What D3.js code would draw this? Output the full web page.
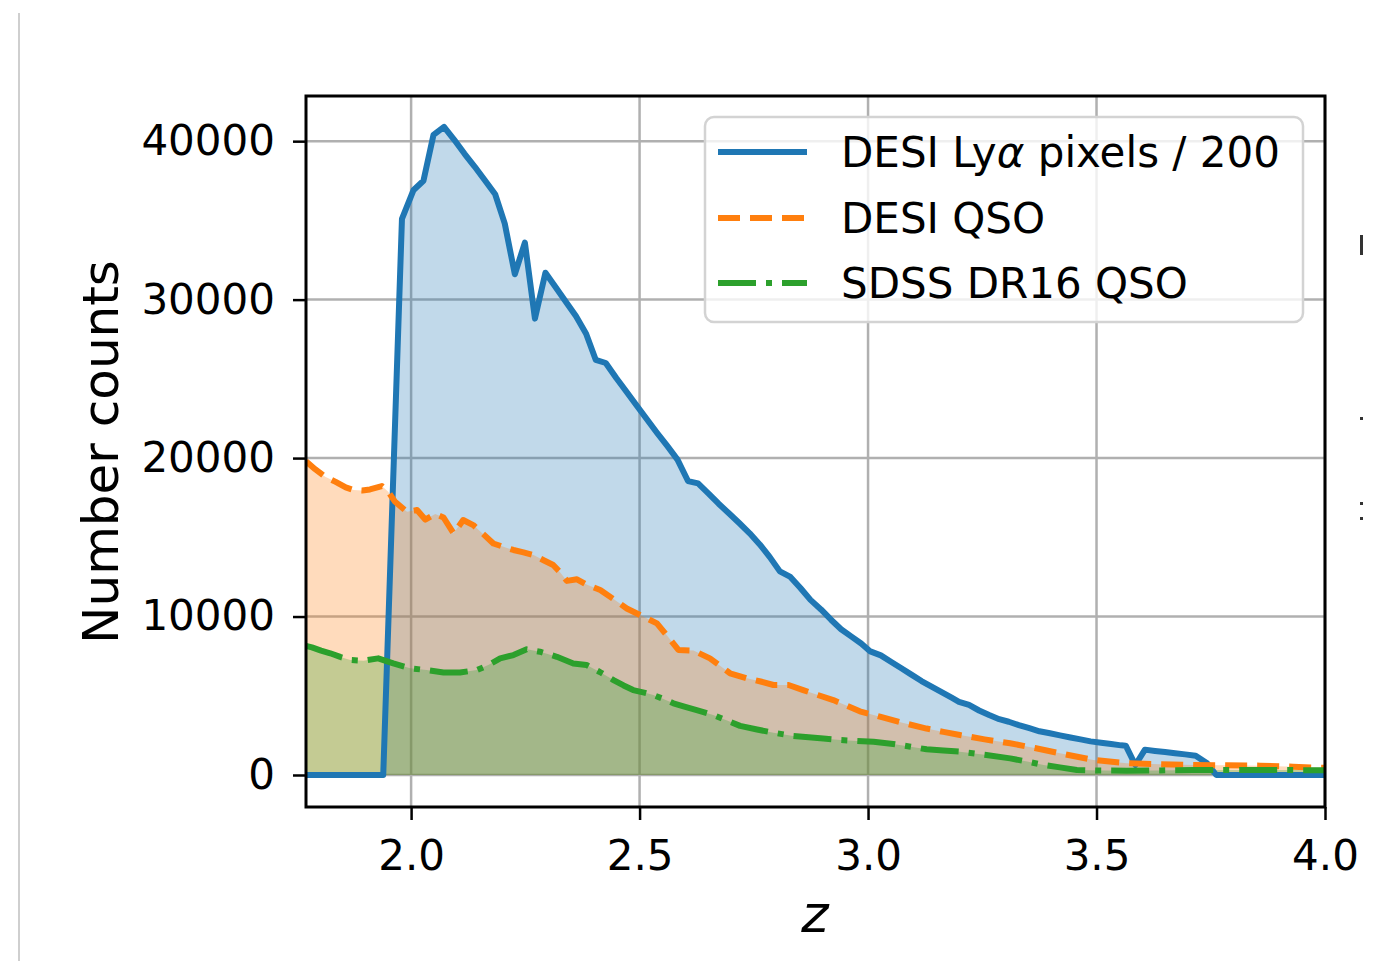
<!DOCTYPE html>
<html>
<head>
<meta charset="utf-8">
<script src="https://cdn.jsdelivr.net/npm/d3@7"></script>
<style>
  body { margin: 0; background: #fff; }
  svg { display: block; font-family: "DejaVu Sans", sans-serif; }
</style>
</head>
<body>
<svg id="chart" width="1380" height="961"></svg>
<script>
// DESI Lya pixels / 200
const lyaZ = [1.77,1.939,1.980,2.005,2.027,2.049,2.072,2.094,2.117,2.139,2.161,2.184,2.205,2.227,2.249,2.271,2.294,2.316,2.339,2.361,2.383,2.404,2.426,2.449,2.471,2.494,2.516,2.538,2.561,2.583,2.606,2.628,2.651,2.673,2.696,2.718,2.741,2.763,2.785,2.807,2.830,2.852,2.874,2.897,2.919,2.941,2.963,2.985,3.005,3.028,3.050,3.072,3.094,3.117,3.139,3.161,3.183,3.199,3.221,3.243,3.265,3.287,3.308,3.330,3.353,3.375,3.398,3.420,3.443,3.465,3.487,3.510,3.532,3.554,3.564,3.585,3.606,3.628,3.650,3.672,3.694,3.717,3.742,3.762,4.0];
const lyaN = [0,0,35100,36900,37500,40400,40900,40100,39200,38400,37550,36650,34800,31600,33600,28800,31700,30800,29850,28950,27850,26200,26000,25050,24200,23300,22450,21600,20750,19900,18550,18400,17760,17120,16500,15900,15250,14550,13750,12850,12500,11800,11050,10450,9800,9200,8750,8300,7800,7550,7150,6750,6350,5930,5580,5230,4880,4620,4420,4070,3780,3520,3360,3150,2950,2760,2630,2500,2370,2250,2120,2030,1950,1870,1850,630,1600,1520,1450,1370,1300,1220,740,0,0];

// DESI QSO
const qsoZ = [1.770,1.790,1.812,1.835,1.857,1.874,1.893,1.910,1.936,1.950,1.965,1.991,2.013,2.031,2.053,2.071,2.093,2.114,2.136,2.158,2.180,2.202,2.224,2.246,2.268,2.290,2.311,2.325,2.341,2.363,2.385,2.414,2.443,2.472,2.501,2.538,2.560,2.585,2.618,2.654,2.698,2.735,2.765,2.793,2.826,2.858,2.890,2.924,2.955,2.982,3.026,3.075,3.128,3.165,3.201,3.255,3.311,3.365,3.420,3.493,3.566,3.640,3.712,3.785,3.858,3.930,4.0];
const qsoN = [19800,19300,18820,18500,18150,17980,17950,18020,18230,17880,17240,16610,16720,16120,16470,16250,15250,16090,15770,15200,14610,14400,14200,14050,13880,13550,13250,12830,12250,12350,12000,11670,11100,10510,10100,9570,8800,7890,7850,7360,6420,6100,5900,5680,5680,5360,5050,4730,4350,4020,3680,3300,2930,2720,2520,2250,2000,1700,1370,950,740,680,630,610,590,520,450];

// SDSS DR16 QSO
const sdssZ = [1.770,1.783,1.803,1.823,1.845,1.867,1.896,1.928,1.961,1.998,2.034,2.071,2.107,2.144,2.170,2.195,2.224,2.253,2.282,2.319,2.355,2.384,2.413,2.443,2.465,2.486,2.510,2.530,2.552,2.574,2.600,2.625,2.661,2.690,2.720,2.757,2.793,2.836,2.870,2.902,2.939,2.975,3.012,3.055,3.090,3.128,3.165,3.201,3.259,3.311,3.348,3.384,3.420,3.457,3.510,3.566,3.640,3.712,3.785,3.858,3.930,4.0];
const sdssN = [8150,8050,7850,7680,7450,7260,7210,7360,7040,6730,6620,6470,6470,6620,6950,7360,7570,7930,7780,7460,7040,6940,6500,5990,5650,5360,5200,5050,4800,4520,4300,4100,3790,3450,3100,2870,2670,2460,2380,2300,2210,2150,2100,1960,1800,1620,1540,1470,1260,1050,850,630,480,320,280,270,290,320,320,320,310,300];

const xTicks = [2.0, 2.5, 3.0, 3.5, 4.0];
const yTicks = [0, 10000, 20000, 30000, 40000];
const labels = ["DESI Ly", "DESI QSO", "SDSS DR16 QSO"];

const svg = d3.select("#chart");
const plotL = 306, plotR = 1325, plotT = 96, plotB = 807;

const x = d3.scaleLinear().domain([1.77, 4.0]).range([plotL, plotR]);
const y = d3.scaleLinear().domain([-2020, 42850]).range([plotB, plotT]);

// frame of the neighbouring panel
svg.append("line").attr("x1", 19).attr("x2", 19).attr("y1", 13).attr("y2", 961)
    .attr("stroke", "#cfcfcf").attr("stroke-width", 2);
[[1360, 235, 3, 20], [1360, 417, 3, 3], [1360, 502, 3, 3], [1360, 517, 3, 3]].forEach(r => {
    svg.append("rect").attr("x", r[0]).attr("y", r[1]).attr("width", r[2]).attr("height", r[3]).attr("fill", "#333");
});

svg.append("clipPath").attr("id", "plotClip")
    .append("rect").attr("x", plotL).attr("y", plotT).attr("width", plotR - plotL).attr("height", plotB - plotT);

// grid
const grid = svg.append("g");
xTicks.forEach(t => {
    grid.append("line").attr("x1", x(t)).attr("x2", x(t)).attr("y1", plotT).attr("y2", plotB)
        .attr("stroke", "#b0b0b0").attr("stroke-width", 2.5);
});
yTicks.forEach(t => {
    grid.append("line").attr("x1", plotL).attr("x2", plotR).attr("y1", y(t)).attr("y2", y(t))
        .attr("stroke", "#b0b0b0").attr("stroke-width", 2.5);
});

const series = [
    { z: lyaZ, n: lyaN, color: "#1f77b4", dash: null },
    { z: qsoZ, n: qsoN, color: "#ff7f0e", dash: "22,10" },
    { z: sdssZ, n: sdssN, color: "#2ca02c", dash: "38,10,6,10" }
];

const plot = svg.append("g").attr("clip-path", "url(#plotClip)");

const area = d3.area().x(d => x(d[0])).y0(y(0)).y1(d => y(d[1]));
const line = d3.line().x(d => x(d[0])).y(d => y(d[1]));

series.forEach(s => {
    const pts = s.z.map((z, i) => [z, s.n[i]]);
    plot.append("path").attr("d", area(pts)).attr("fill", s.color).attr("fill-opacity", 0.28);
});
series.forEach(s => {
    const pts = s.z.map((z, i) => [z, s.n[i]]);
    plot.append("path").attr("d", line(pts)).attr("fill", "none")
        .attr("stroke", s.color).attr("stroke-width", 6)
        .attr("stroke-linejoin", "round")
        .attr("stroke-dasharray", s.dash);
});

// axes
const xAxis = svg.append("g").attr("transform", `translate(0,${plotB})`)
    .call(d3.axisBottom(x).tickValues(xTicks).tickFormat(d3.format(".1f")).tickSize(13).tickPadding(20));
const yAxis = svg.append("g").attr("transform", `translate(${plotL},0)`)
    .call(d3.axisLeft(y).tickValues(yTicks).tickFormat(d => d).tickSize(13).tickPadding(18));
[xAxis, yAxis].forEach(a => {
    a.select(".domain").remove();
    a.selectAll(".tick line").attr("stroke", "#000").attr("stroke-width", 2.5);
    a.selectAll(".tick text").attr("fill", "#000").style("font-size", "42px")
        .style("font-family", "DejaVu Sans");
});

svg.append("rect").attr("x", plotL).attr("y", plotT).attr("width", plotR - plotL).attr("height", plotB - plotT)
    .attr("fill", "none").attr("stroke", "#000").attr("stroke-width", 3);

// axis labels
svg.append("text").attr("x", 815).attr("y", 932).attr("text-anchor", "middle")
    .style("font-size", "52px").style("font-style", "italic").text("z");
svg.append("text").attr("transform", "translate(118,452) rotate(-90)").attr("text-anchor", "middle")
    .style("font-size", "50px").text("Number counts");

// legend
const lg = svg.append("g");
lg.append("rect").attr("x", 705).attr("y", 117).attr("width", 598).attr("height", 205)
    .attr("rx", 9).attr("fill", "#fff").attr("fill-opacity", 0.8)
    .attr("stroke", "#d3d3d3").attr("stroke-width", 2.5);
const rowY = [152, 218, 283];
const baseY = [167, 233, 298];
series.forEach((s, i) => {
    lg.append("line").attr("x1", 718).attr("x2", 807).attr("y1", rowY[i]).attr("y2", rowY[i])
        .attr("stroke", s.color).attr("stroke-width", 6).attr("stroke-dasharray", s.dash);
    const t = lg.append("text").attr("x", 841).attr("y", baseY[i]).style("font-size", "42px");
    t.append("tspan").text(labels[i]);
    if (i === 0) {
        t.append("tspan").style("font-style", "italic").text("α");
        t.append("tspan").text(" pixels / 200");
    }
});
</script>
</body>
</html>
